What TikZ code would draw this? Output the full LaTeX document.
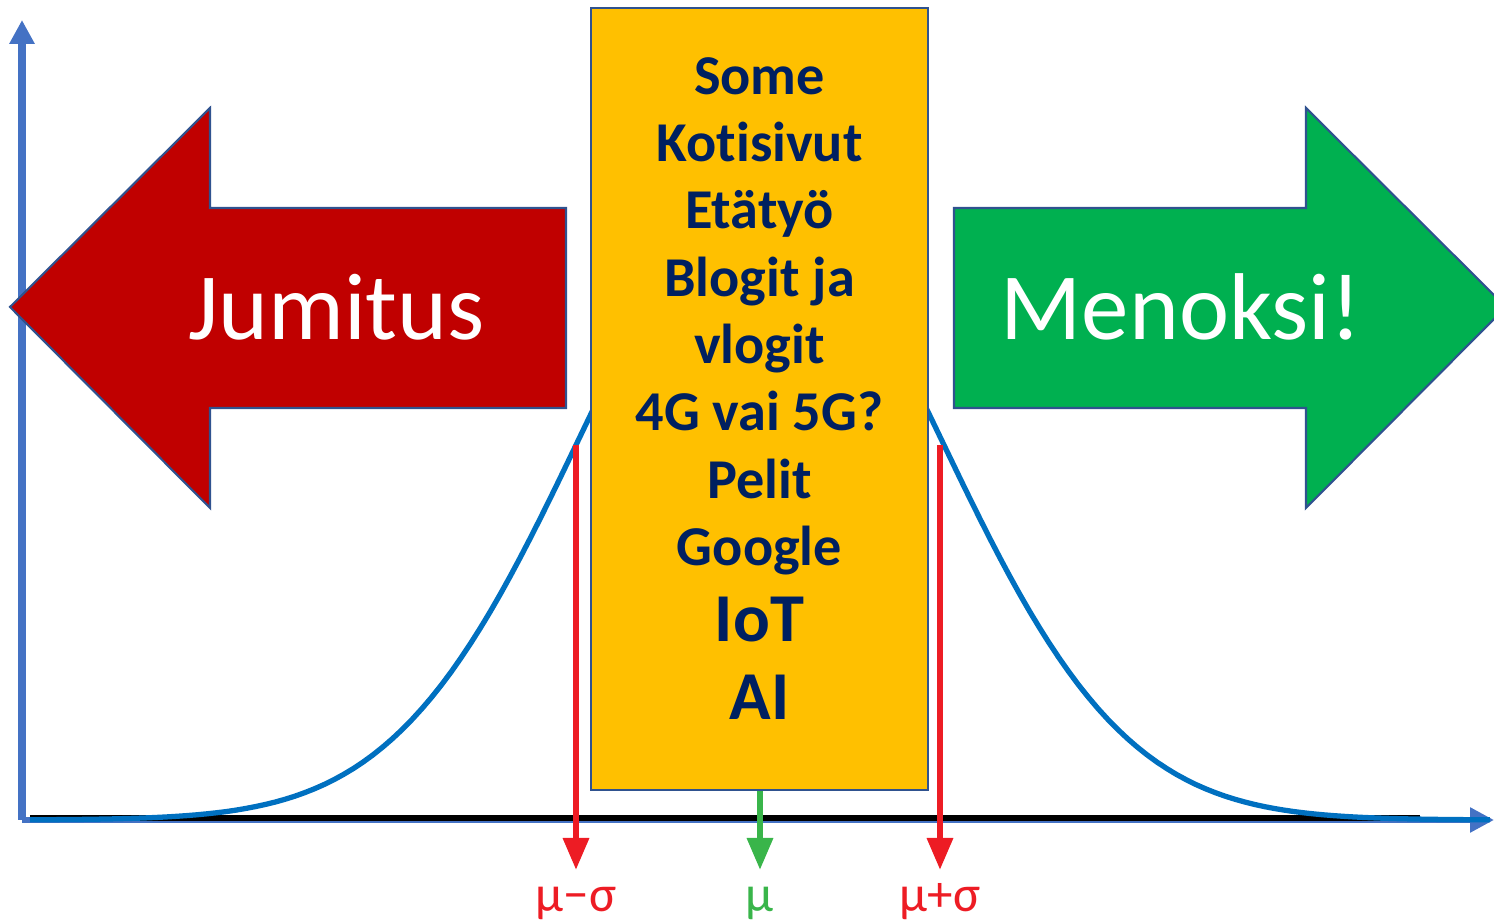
\documentclass[tikz,border=0pt]{standalone}
\usepackage{fontspec}
\setmainfont[Ligatures={NoCommon}]{Carlito}
\usetikzlibrary{arrows.meta, calc, positioning}
\definecolor{axisblue}{HTML}{4472C4}
\definecolor{curveblue}{HTML}{0070C0}
\definecolor{boxorange}{HTML}{FFC000}
\definecolor{edgeblue}{HTML}{2F528F}
\definecolor{navy}{HTML}{002060}
\definecolor{darkred}{HTML}{C00000}
\definecolor{brightgreen}{HTML}{00B050}
\definecolor{markred}{HTML}{ED1C24}
\definecolor{markgreen}{HTML}{39B54A}
\tikzstyle{axis} = [draw=axisblue, line width=2pt, -{Triangle[width=0.24cm,length=0.24cm]}]
\tikzstyle{bigarrow} = [draw=edgeblue, line width=0.6pt]
\tikzstyle{bigtext} = [text=white, font=\fontsize{27}{30}\selectfont, anchor=base, inner sep=0pt]
\tikzstyle{topic} = [text=navy, font=\bfseries\fontsize{16}{18}\selectfont, anchor=base, inner sep=0pt]
\tikzstyle{bigtopic} = [text=navy, font=\bfseries\fontsize{19.5}{22}\selectfont, anchor=base, inner sep=0pt]
\tikzstyle{marker} = [line width=1.8pt, -{Triangle[width=0.25cm,length=0.32cm]}]
\tikzstyle{label} = [font=\fontsize{14.5}{16}\selectfont, anchor=base, inner sep=0pt]

\begin{document}
\begin{tikzpicture}
\useasboundingbox (0,0) rectangle (14.94,9.24);

% Axes
\coordinate (origin) at (0.22,1.04);
\coordinate (ytip) at (0.22,9.04);
\coordinate (xtip) at (14.94,1.04);
\draw [axis] (origin) -- (ytip);
\draw [axis, line width=1.6pt] (origin) -- (xtip);
\draw [black, line width=1.8pt] (0.3,1.06) -- (14.2,1.06);

% Bell curve
\draw [curveblue, line width=1.5pt, domain=0.3:14.9, samples=150]
  plot (\x, {1.04 + 6.25*exp(-((\x-7.6)^2)/(2*1.82^2))});

% Red and green arrows
\fill [darkred] (0.10,6.17) -- (2.10,8.16) -- (2.10,7.16) -- (5.66,7.16)
  -- (5.66,5.16) -- (2.10,5.16) -- (2.10,4.16) -- cycle;
\draw [bigarrow] (0.10,6.17) -- (2.10,8.16) -- (2.10,7.16) -- (5.66,7.16)
  -- (5.66,5.16) -- (2.10,5.16) -- (2.10,4.16) -- cycle;
\fill [brightgreen] (15.06,6.17) -- (13.06,8.16) -- (13.06,7.16) -- (9.54,7.16)
  -- (9.54,5.16) -- (13.06,5.16) -- (13.06,4.16) -- cycle;
\draw [bigarrow] (15.06,6.17) -- (13.06,8.16) -- (13.06,7.16) -- (9.54,7.16)
  -- (9.54,5.16) -- (13.06,5.16) -- (13.06,4.16) -- cycle;
\node (jumitus) [bigtext] at (3.365,5.84) {Jumitus};
\node (menoksi) [bigtext] at (11.81,5.84) {Menoksi!};

% Middle box
\node (box) [rectangle, draw=edgeblue, line width=0.8pt, fill=boxorange,
  minimum width=3.37cm, minimum height=7.82cm] at (7.595,5.25) {};
\foreach \name/\txt/\ypos in {some/Some/8.29, koti/Kotisivut/7.62,
  eta/Etätyö/6.95, blog/Blogit ja/6.27, vlog/vlogit/5.60,
  net/4G vai 5G?/4.93, pelit/Pelit/4.25, google/Google/3.58}
  \node (\name) [topic] at (7.595,\ypos) {\txt};
\node (iot) [bigtopic] at (7.595,2.82) {IoT};
\node (ai) [bigtopic] at (7.595,2.04) {AI};

% Markers
\node (lowlab) [label, text=markred] at (5.76,0.12) {μ−σ};
\node (meanlab) [label, text=markgreen] at (7.60,0.12) {μ};
\node (highlab) [label, text=markred] at (9.40,0.12) {μ+σ};
\coordinate (lowtop) at (5.76,4.79);
\coordinate (hightop) at (9.40,4.79);
\draw [marker, markred] (lowtop) -- (5.76,0.54);
\draw [marker, markgreen] (box.south -| meanlab) -- (7.60,0.54);
\draw [marker, markred] (hightop) -- (9.40,0.54);

\end{tikzpicture}
\end{document}
